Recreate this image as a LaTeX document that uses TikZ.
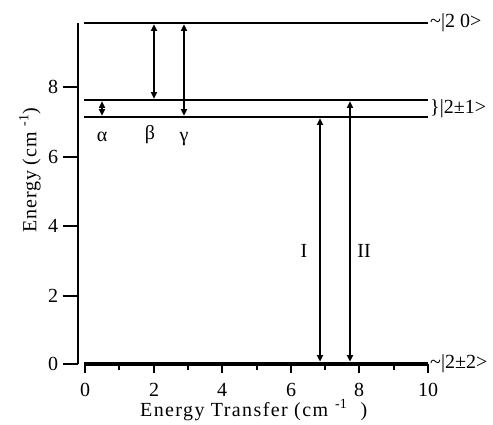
\documentclass[tikz,border=0pt]{standalone}
\usepackage{fontspec}
\setmainfont{Liberation Serif}
\usetikzlibrary{arrows.meta}
\begin{document}
\begin{tikzpicture}[x=1pt,y=-1pt,
  level/.style={line width=2.6pt},
  ground/.style={line width=4.8pt},
  axisline/.style={line width=2.4pt},
  tickmark/.style={line width=2.4pt},
  trans/.style={line width=1.4pt,{Triangle[length=6.5pt,width=6pt]}-{Triangle[length=6.5pt,width=6pt]}},
  lbl/.style={inner sep=0pt,font=\fontsize{20}{24}\selectfont},
  ticklbl/.style={inner sep=0pt,font=\fontsize{20}{24}\selectfont}]
\useasboundingbox (0,0) rectangle (493,424);
% axes
\coordinate (ytop) at (78,23);
\coordinate (ybot) at (78,364);
\draw[axisline] (ytop) -- (ybot);
\foreach \v/\py in {0/364,2/296,4/226,6/157,8/87}{
  \coordinate (yt\v) at (78,\py);
  \coordinate (yl\v) at (63,\py);
  \draw[tickmark] (yt\v) -- (yl\v);
  \node[ticklbl] (ylab\v) at (53,\py) {\v};
}
\foreach \v/\px in {0/85,2/154,4/222,6/291,8/359,10/428}{
  \coordinate (xt\v) at (\px,364);
  \coordinate (xb\v) at (\px,373);
  \draw[tickmark] (xt\v) -- (xb\v);
  \node[ticklbl] (xlab\v) at (\px,389.5) {\v};
}
\foreach \v/\px in {1/119,3/188,5/257,7/325,9/394}{
  \coordinate (mt\v) at (\px,364);
  \coordinate (mb\v) at (\px,369.5);
  \draw[tickmark] (mt\v) -- (mb\v);
}
% levels
\coordinate (l0a) at (84,23);  \coordinate (l0b) at (428,23);
\coordinate (l1a) at (84,100); \coordinate (l1b) at (428,100);
\coordinate (l2a) at (84,117); \coordinate (l2b) at (428,117);
\coordinate (gA) at (84,364);  \coordinate (gB) at (428,364);
\draw[level] (l0a) -- (l0b);
\draw[level] (l1a) -- (l1b);
\draw[level] (l2a) -- (l2b);
\draw[ground] (gA) -- (gB);
% transitions
\coordinate (a1) at (102,101.3); \coordinate (a2) at (102,115.7);
\coordinate (b1) at (154,24.3);  \coordinate (b2) at (154,98.7);
\coordinate (c1) at (184,24.3);  \coordinate (c2) at (184,115.7);
\coordinate (i1) at (320,118.3); \coordinate (i2) at (320,361.6);
\coordinate (j1) at (350,101.3); \coordinate (j2) at (350,361.6);
\draw[trans] (a1) -- (a2);
\draw[trans] (b1) -- (b2);
\draw[trans] (c1) -- (c2);
\draw[trans] (i1) -- (i2);
\draw[trans] (j1) -- (j2);
\node[lbl] (alpha) at (102,137) {α};
\node[lbl] (beta) at (150,135) {β};
\node[lbl] (gamma) at (184,139) {γ};
\node[lbl] (labI) at (304,251) {I};
\node[lbl] (labII) at (364,251) {II};
% state labels
\node[lbl,anchor=west] (s0) at (430,23) {\textasciitilde|2 0>};
\node[lbl,anchor=west] (s1) at (430,109) {\}|2±1>};
\node[lbl,anchor=west] (s2) at (430,364) {\textasciitilde|2±2>};
% axis titles
\node[lbl,anchor=base west] (xtitle) at (140,416.5) {\addfontfeature{LetterSpace=7}Energy Transfer (cm};
\node[inner sep=0pt,font=\fontsize{14}{16}\selectfont] (xsup) at (341,404) {-1};
\node[lbl] (xclose) at (364,412) {)};
\node[lbl,rotate=90] (ytitle) at (30,170) {\addfontfeature{LetterSpace=4}Energy (cm \raisebox{8pt}{\fontsize{14}{16}\selectfont -1})};
\end{tikzpicture}
\end{document}
